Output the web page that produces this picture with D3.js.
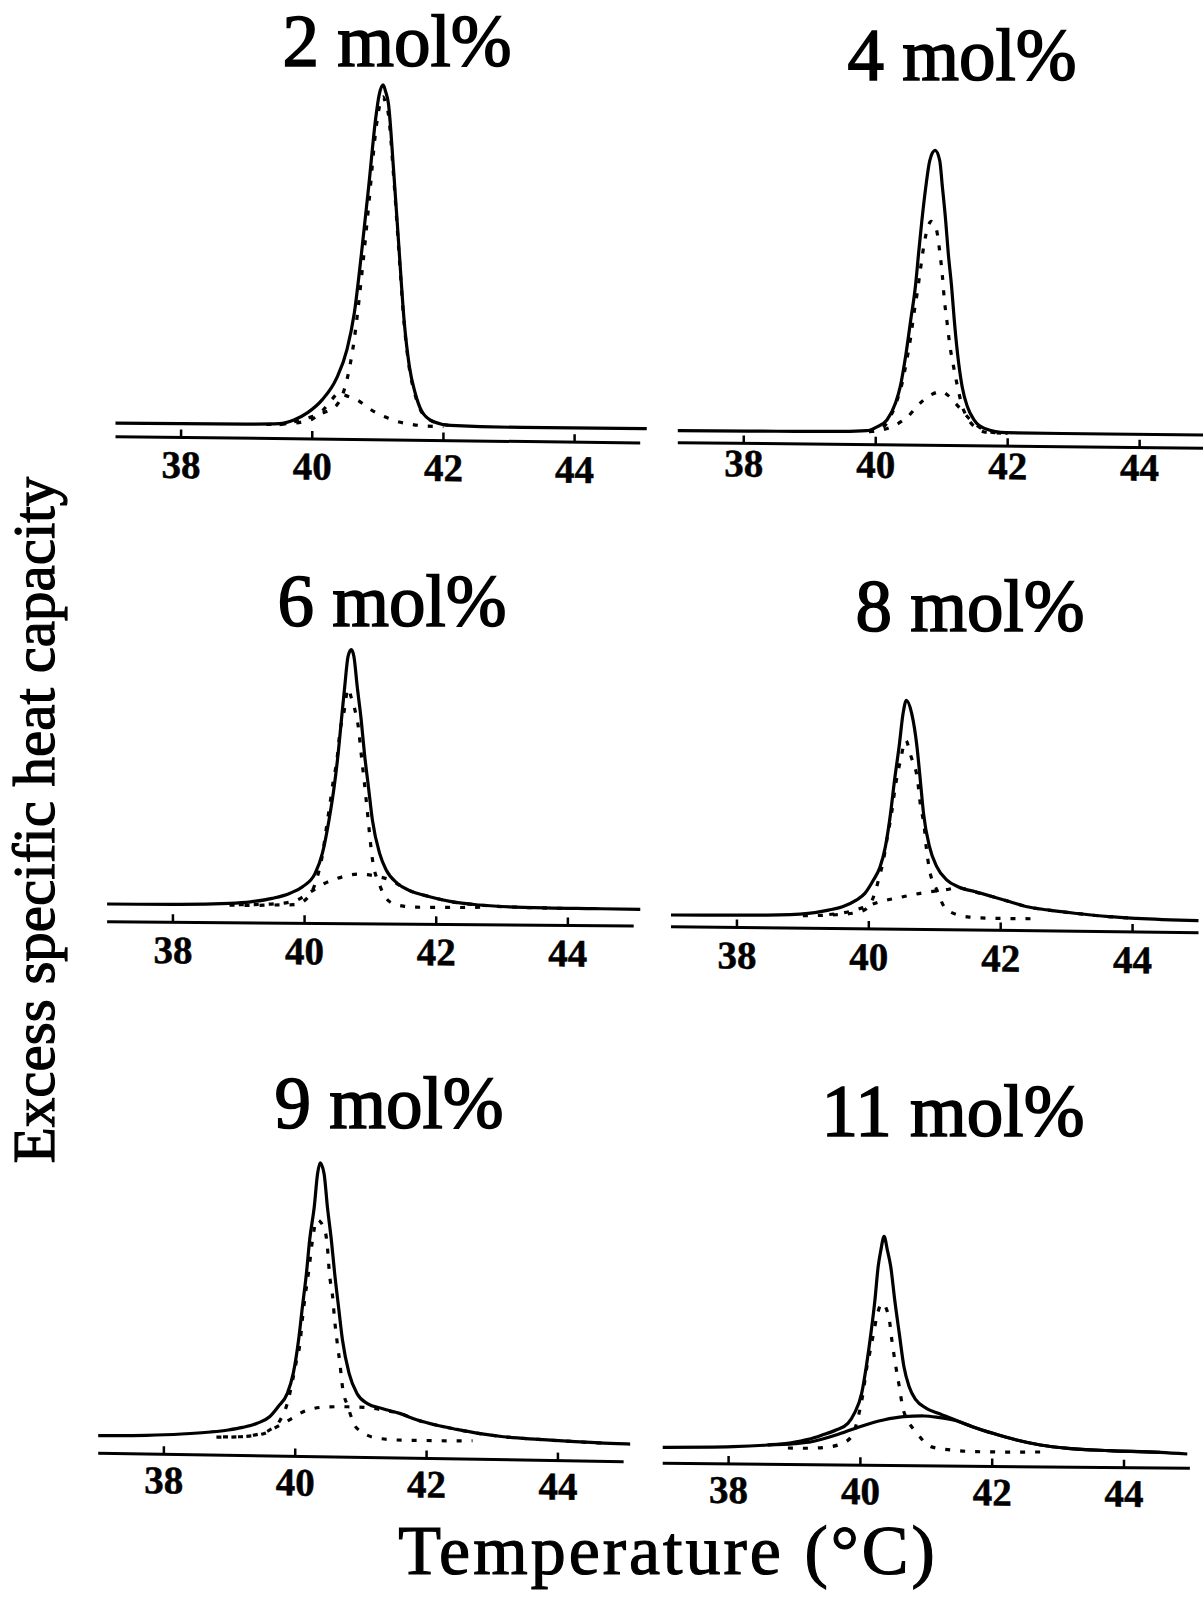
<!DOCTYPE html>
<html>
<head>
<meta charset="utf-8">
<script src="https://cdn.jsdelivr.net/npm/d3@7"></script>
<style>
  body { margin: 0; background: #fff; }
  svg { display: block; }
</style>
</head>
<body>
<div id="chart"></div>
<script>
// DSC scans, excess specific heat capacity (arbitrary units) vs temperature (°C)
const tickValues = [38, 40, 42, 44];
const panelTitles = ["2 mol%", "4 mol%", "6 mol%", "8 mol%", "9 mol%", "11 mol%"];

// 2 mol%
const total2 = [[37.0,13.5],[38.0,13.8],[39.0,14.2],[39.5,15],[39.72,18.9],[39.93,26.4],[40.15,39.3],[40.37,61],[40.53,90],[40.64,126],[40.75,186],[40.86,253],[40.97,323],[41.02,345],[41.08,355],[41.12,348],[41.16,337],[41.24,270],[41.32,194],[41.4,120],[41.48,74],[41.57,47],[41.67,29],[41.84,19],[42.11,15.3],[43.2,14.1],[45.1,14.4]];
const narrow2 = [[39.5,14],[39.72,17],[39.93,21],[40.15,26],[40.37,34],[40.53,60],[40.64,100],[40.75,162],[40.86,234],[40.97,310],[41.02,332],[41.08,343],[41.12,336],[41.16,326],[41.24,264],[41.32,189],[41.4,117],[41.48,72],[41.57,45],[41.67,28],[41.84,19],[42.1,15]];
const broad2 = [[39.3,14],[39.6,15],[39.85,17],[40.0,20],[40.15,28],[40.3,40],[40.4,46],[40.55,43],[40.7,39],[40.85,32],[41.0,26],[41.15,22],[41.3,18.5],[41.5,16],[41.7,14.5],[42.0,14]];

// 4 mol%
const total4 = [[37.0,12],[38.5,12.5],[39.5,13],[39.86,14],[40.02,18],[40.17,25],[40.3,42],[40.37,58],[40.46,92],[40.53,125],[40.6,158],[40.65,192],[40.7,225],[40.76,259],[40.82,285],[40.9,295],[40.97,285],[41.01,259],[41.06,225],[41.1,192],[41.15,159],[41.19,126],[41.24,92],[41.31,59],[41.39,39],[41.49,26],[41.65,17.5],[41.98,13.5],[43.5,13.3],[45.0,13.3]];
const narrow4 = [[39.9,13],[40.1,17],[40.22,28],[40.32,44],[40.4,62],[40.47,85],[40.53,108],[40.58,132],[40.63,153],[40.68,177],[40.73,200],[40.79,218],[40.84,224],[40.9,220],[40.93,213],[40.97,194],[41.01,170],[41.04,146],[41.08,124],[41.12,102],[41.18,79],[41.24,59],[41.3,42],[41.39,28],[41.52,18],[41.7,13.5],[41.9,13]];
const broad4 = [[39.9,13],[40.1,15],[40.2,17],[40.35,22],[40.48,28],[40.6,37],[40.72,45],[40.85,51],[41.0,54],[41.1,50],[41.2,43],[41.31,35],[41.42,27],[41.52,21],[41.65,16],[41.8,13.5],[42.0,13]];

// 6 mol%
const total6 = [[37.0,17.7],[38.0,17.8],[38.86,19.3],[39.18,21],[39.51,24.7],[39.78,30],[39.97,36.6],[40.16,50],[40.27,70],[40.37,103],[40.45,137],[40.51,170],[40.56,204],[40.61,237],[40.66,267],[40.71,274],[40.75,267],[40.8,237],[40.86,204],[40.91,170],[40.97,137],[41.03,104],[41.14,70.5],[41.24,54],[41.41,40.7],[41.58,34],[41.9,27.6],[42.23,22.8],[42.66,19.7],[43.32,17.7],[44.4,17],[45.1,16.7]];
const narrow6 = [[38.86,17.5],[39.2,17.5],[39.5,18],[39.84,18.5],[40.05,26],[40.14,36],[40.22,53],[40.27,68],[40.33,95],[40.38,117],[40.43,140],[40.49,163],[40.54,193],[40.6,212],[40.66,235],[40.71,226],[40.76,215],[40.82,195],[40.86,170],[40.91,140],[40.95,115],[40.99,88],[41.03,65],[41.14,39],[41.3,22],[41.5,18],[41.7,17],[42.2,17],[42.73,17.6]];
const broad6 = [[39.0,18],[39.5,19],[39.84,22],[40.08,31],[40.3,40],[40.49,45],[40.82,49.7],[41.14,47],[41.3,44],[41.41,40],[41.58,34],[41.9,27.6],[42.23,22.8],[42.66,19.7],[43.3,17.7],[44.0,17]];

// 8 mol%
const total8 = [[37.0,11.7],[38.46,12.7],[39.08,14.9],[39.39,18.4],[39.6,21.9],[39.81,28.7],[39.94,35.5],[40.07,49],[40.17,62],[40.25,82],[40.33,116],[40.39,149],[40.46,183],[40.52,216],[40.57,229],[40.65,216],[40.73,183],[40.78,150],[40.83,116],[40.92,83],[41.03,63],[41.18,50],[41.36,43],[41.62,38.4],[41.88,33.6],[42.14,28.8],[42.4,24],[42.71,21],[43.12,18],[43.64,15],[44.06,13.6],[45.0,12]];
const narrow8 = [[39.0,12.5],[39.5,13.8],[39.86,17],[39.99,22],[40.09,35.6],[40.17,55],[40.22,68],[40.27,88],[40.35,118],[40.4,142],[40.48,169],[40.56,189],[40.64,173],[40.74,149],[40.78,126],[40.84,103],[40.87,83],[40.92,60],[41.03,40],[41.18,20],[41.52,13],[41.88,12],[42.6,12]];
const broad8 = [[39.4,14],[39.7,17],[39.9,21],[40.15,27],[40.48,32],[40.84,37],[41.16,40],[41.36,42],[41.62,38],[41.88,33.6],[42.14,28.8],[42.4,24],[42.71,21],[43.12,18],[43.64,15],[44.06,13.6]];

// 9 mol%
const total9 = [[37.0,17.7],[37.73,18.7],[38.27,20.6],[38.71,23.1],[38.98,25.4],[39.2,28.2],[39.42,32.5],[39.61,39.3],[39.74,49.5],[39.88,63],[39.97,83],[40.05,116],[40.11,150],[40.17,183],[40.22,217],[40.29,250],[40.34,283],[40.38,294],[40.44,283],[40.49,250],[40.55,217],[40.6,184],[40.66,150],[40.72,117],[40.82,84],[40.94,64],[41.1,54],[41.32,49.4],[41.59,44.7],[41.86,38.3],[42.14,33.6],[42.46,29.6],[42.79,26],[43.17,23],[43.71,20.9],[44.26,19.2],[44.8,18],[45.1,17.7]];
const narrow9 = [[38.9,18.5],[39.1,18.7],[39.36,20.5],[39.61,26],[39.77,36],[39.88,53],[39.96,76],[40.02,96],[40.07,112],[40.11,138],[40.15,160],[40.21,188],[40.26,215],[40.33,237],[40.45,227],[40.49,210],[40.52,184],[40.57,160],[40.6,137],[40.64,114],[40.68,94],[40.72,70],[40.8,51],[40.94,29],[41.27,19.4],[41.62,18],[42.2,18],[42.7,18.5]];
const broad9 = [[38.8,18],[39.2,19],[39.53,22.5],[39.74,30],[39.95,38],[40.13,45],[40.48,50],[40.8,50.5],[41.1,50],[41.32,48],[41.59,44.7],[41.86,38.3],[42.14,33.6],[42.46,29.6],[42.79,26],[43.17,23],[43.71,20.9],[44.26,19.2],[44.8,18]];

// 11 mol%
const total11 = [[37.0,16],[38.07,17.3],[38.59,19.3],[38.95,21.8],[39.21,25.3],[39.42,29.8],[39.63,35],[39.81,41.7],[39.91,52],[40.02,72],[40.09,99],[40.16,132],[40.22,165],[40.27,199],[40.31,215],[40.36,229],[40.41,215],[40.46,199],[40.52,166],[40.59,132],[40.66,99],[40.74,79],[40.84,66],[41.0,57.5],[41.18,52.6],[41.44,46.1],[41.7,39.6],[42.01,33.1],[42.37,26.7],[42.73,21.9],[43.15,18.8],[43.77,16.9],[44.55,15.7],[44.96,14.3]];
const narrow11 = [[38.9,16.5],[39.16,16.4],[39.47,17.5],[39.78,23.4],[39.91,35],[39.98,52],[40.04,72],[40.09,95],[40.15,115],[40.2,132],[40.25,149],[40.33,162],[40.43,149],[40.48,124],[40.53,102],[40.59,79],[40.64,59],[40.73,44],[40.84,34],[41.08,19],[41.39,16],[41.75,14.6],[42.2,14.5],[42.8,15]];
const broad11 = [[38.59,19.3],[39.0,21],[39.26,23],[39.63,29.9],[39.99,38.5],[40.35,45.4],[40.66,48.9],[40.97,49.8],[41.18,48.5],[41.44,45.5],[41.7,39.6],[42.01,33.1],[42.37,26.7],[42.73,21.9],[43.15,18.8],[43.77,16.9],[44.55,15.7]];

const totals = [total2, total4, total6, total8, total9, total11];
const narrows = [narrow2, narrow4, narrow6, narrow8, narrow9, narrow11];
const broads = [broad2, broad4, broad6, broad8, broad9, broad11];
const broadSolid = [false, false, false, false, false, true];

// layout: each scanned panel sits slightly askew, so its axis slopes a little
const width = 1203;
const height = 1600;
const panelBoxes = [
  { left: 115.5, right: 640.2, axisY: 436.7, slope: 0.0119, labelGap: 40.5 },
  { left: 677.8, right: 1205.6, axisY: 442.7, slope: 0.0107, labelGap: 33 },
  { left: 107.1, right: 633.7, axisY: 921.7, slope: 0.0081, labelGap: 41 },
  { left: 671.0, right: 1198.5, axisY: 926.7, slope: 0.0113, labelGap: 41 },
  { left: 98.2, right: 623.6, axisY: 1453.3, slope: 0.0159, labelGap: 39 },
  { left: 662.7, right: 1189.9, axisY: 1463.3, slope: 0.0095, labelGap: 39 }
];
const titleSpots = [[397, 66], [962, 80], [392, 626], [970, 631], [389, 1128], [953, 1136]];
const serif = "'Liberation Serif', 'DejaVu Serif', serif";

const svg = d3.select("#chart")
  .append("svg")
  .attr("width", width)
  .attr("height", height)
  .attr("viewBox", `0 0 ${width} ${height}`);

svg.append("rect").attr("width", width).attr("height", height).attr("fill", "#fff");

panelTitles.forEach((title, i) => {
  const box = panelBoxes[i];
  const skew = Math.atan(box.slope) * 180 / Math.PI;
  const x = d3.scaleLinear().domain([37, 45]).range([0, box.right - box.left]);
  const y = d3.scaleLinear().domain([0, 400]).range([0, -400]);
  const g = svg.append("g")
    .attr("class", "panel")
    .attr("transform", `translate(${box.left}, ${box.axisY}) skewY(${skew})`);

  // axis line with upward ticks
  g.append("line")
    .attr("x1", x(37)).attr("x2", x(45))
    .attr("y1", 0).attr("y2", 0)
    .attr("stroke", "#000").attr("stroke-width", 3);

  g.selectAll(".tick")
    .data(tickValues)
    .join("line")
    .attr("class", "tick")
    .attr("x1", (d) => x(d)).attr("x2", (d) => x(d))
    .attr("y1", 0).attr("y2", -8)
    .attr("stroke", "#000").attr("stroke-width", 2.5);

  g.selectAll(".tick-label")
    .data(tickValues)
    .join("text")
    .attr("class", "tick-label")
    .attr("x", (d) => x(d))
    .attr("y", box.labelGap)
    .attr("text-anchor", "middle")
    .attr("font-family", serif)
    .attr("font-weight", "bold")
    .attr("font-size", 39)
    .attr("stroke", "#000")
    .attr("stroke-width", 0.5)
    .text((d) => d);

  const line = d3.line()
    .x((d) => x(d[0]))
    .y((d) => y(d[1]))
    .curve(d3.curveMonotoneX);

  g.append("path")
    .attr("d", line(totals[i]))
    .attr("fill", "none")
    .attr("stroke", "#000")
    .attr("stroke-width", 3.2)
    .attr("stroke-linejoin", "round");

  g.append("path")
    .attr("d", line(narrows[i]))
    .attr("fill", "none")
    .attr("stroke", "#000")
    .attr("stroke-width", 3.2)
    .attr("stroke-dasharray", "5 10");

  const broad = g.append("path")
    .attr("d", line(broads[i]))
    .attr("fill", "none")
    .attr("stroke", "#000")
    .attr("stroke-width", 3.2);

  if (!broadSolid[i]) {
    broad.attr("stroke-dasharray", "5 10");
  }
});

// panel titles
svg.selectAll(".title")
  .data(panelTitles)
  .join("text")
  .attr("class", "title")
  .attr("x", (d, i) => titleSpots[i][0])
  .attr("y", (d, i) => titleSpots[i][1])
  .attr("text-anchor", "middle")
  .attr("font-family", serif)
  .attr("font-size", 73)
  .attr("stroke", "#000")
  .attr("stroke-width", 1.6)
  .text((d) => d);

svg.append("text")
  .attr("transform", "translate(54, 820) rotate(-90)")
  .attr("text-anchor", "middle")
  .attr("font-family", serif)
  .attr("font-size", 59)
  .attr("stroke", "#000")
  .attr("stroke-width", 1.2)
  .text("Excess specific heat capacity");

svg.append("text")
  .attr("x", 668)
  .attr("y", 1574)
  .attr("text-anchor", "middle")
  .attr("font-family", serif)
  .attr("font-size", 70)
  .attr("letter-spacing", 3)
  .attr("stroke", "#000")
  .attr("stroke-width", 1.2)
  .text("Temperature (°C)");
</script>
</body>
</html>
